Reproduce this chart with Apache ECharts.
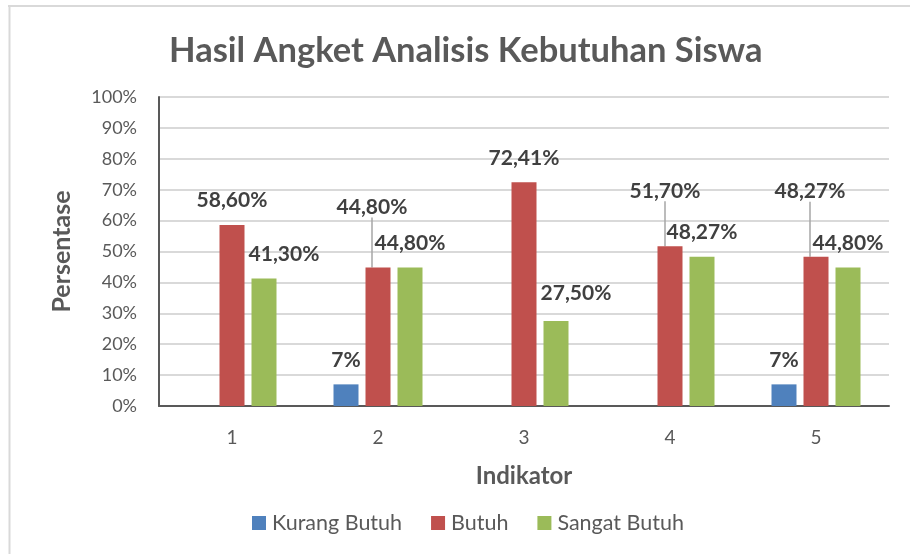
<!DOCTYPE html>
<html>
<head>
<meta charset="utf-8">
<script src="https://cdn.jsdelivr.net/npm/echarts@6/dist/echarts.min.js"></script>
<style>
html,body{margin:0;padding:0;background:#fff;}
#chart{width:910px;height:554px;}
</style>
</head>
<body>
<div id="chart"></div>
<script>
var categories = ['1', '2', '3', '4', '5'];
var kurangButuh = [null, 7, null, null, 7];
var butuh = [58.60, 44.80, 72.41, 51.70, 48.27];
var sangatButuh = [41.30, 44.80, 27.50, 48.27, 44.80];
var yTicks = [0, 10, 20, 30, 40, 50, 60, 70, 80, 90, 100];

// label displacements (style): [seriesIndex][dataIndex] -> [dx, dy]
var labelShift = [
  [[0,0],[0,0],[0,0],[0,0],[0,0]],
  [[0,0],[-6,-36],[0,0],[-5,-31],[-6,-41]],
  [[20,0],[0,0],[20,-3],[0,0],[0,0]]
];
var leaderLines = [[], [1, 3, 4], []];

var FONT = 'Lato';
function fmt(p) {
  var v = p.value;
  if (v == null) return '';
  if (Math.round(v) === v) return v + '%';
  return v.toFixed(2).replace('.', ',') + '%';
}
function mkData(arr, si) {
  return arr.map(function (v, i) {
    var o = { value: v };
    if (leaderLines[si].indexOf(i) >= 0) {
      o.labelLine = { show: true, lineStyle: { color: '#a6a6a6', width: 1.5 } };
    }
    return o;
  });
}
var labelStyle = {
  show: true, position: 'top', distance: 14, formatter: fmt,
  fontFamily: FONT, fontWeight: 'bold', fontSize: 21, color: '#404040'
};
function layoutFn(si) {
  return function (params) {
    var s = labelShift[si][params.dataIndex];
    return { dx: s[0], dy: s[1] };
  };
}
var names = ['Kurang Butuh', 'Butuh', 'Sangat Butuh'];
var colors = ['#4f81bd', '#c0504d', '#9bbb59'];
var arrays = [kurangButuh, butuh, sangatButuh];

var chart = echarts.init(document.getElementById('chart'), null, { renderer: 'canvas' });
var series = arrays.map(function (arr, si) {
  return {
    name: names[si], type: 'bar', data: mkData(arr, si),
    barWidth: 25, barGap: '28%',
    itemStyle: { color: colors[si] },
    label: labelStyle,
    labelLine: { show: false },
    labelLayout: layoutFn(si)
  };
});

chart.setOption({
  animation: false,
  textStyle: { fontFamily: FONT },
  title: {
    text: 'Hasil Angket Analisis Kebutuhan Siswa',
    left: 164, top: 28,
    textStyle: { fontFamily: FONT, fontWeight: 'bold', fontSize: 34.5, color: '#595959' }
  },
  graphic: [
    { type: 'line', shape: { x1: 8, y1: 6, x2: 910, y2: 6 }, style: { stroke: '#d9d9d9', lineWidth: 2 }, silent: true },
    { type: 'line', shape: { x1: 9.5, y1: 6, x2: 9.5, y2: 554 }, style: { stroke: '#d9d9d9', lineWidth: 2 }, silent: true }
  ],
  legend: {
    data: names, left: 247, top: 507,
    icon: 'rect', itemWidth: 14, itemHeight: 14, itemGap: 29,
    textStyle: { fontFamily: FONT, fontSize: 21.5, color: '#595959', padding: [0, 0, 0, 1] }
  },
  grid: { left: 159, right: 21, top: 97, bottom: 148, containLabel: false },
  xAxis: {
    type: 'category', data: categories,
    name: 'Indikator', nameLocation: 'middle', nameGap: 58,
    nameTextStyle: { fontFamily: FONT, fontWeight: 'bold', fontSize: 24, color: '#595959' },
    axisLine: { lineStyle: { color: '#595959', width: 2 } },
    axisTick: { show: false },
    axisLabel: { fontFamily: FONT, fontSize: 19, color: '#595959', margin: 22 }
  },
  yAxis: {
    type: 'value', min: 0, max: 100, interval: 10,
    name: 'Persentase', nameLocation: 'middle', nameGap: 85, nameRotate: 90,
    nameTextStyle: { fontFamily: FONT, fontWeight: 'bold', fontSize: 25, color: '#595959' },
    axisLine: { show: true, lineStyle: { color: '#595959', width: 2 } },
    axisTick: { show: false },
    axisLabel: {
      fontFamily: FONT, fontSize: 18, color: '#595959', margin: 22,
      formatter: function (v) { return yTicks.indexOf(v) >= 0 ? v + '%' : ''; }
    },
    splitLine: { lineStyle: { color: '#d9d9d9', width: 2 } }
  },
  series: series
});
</script>
</body>
</html>
